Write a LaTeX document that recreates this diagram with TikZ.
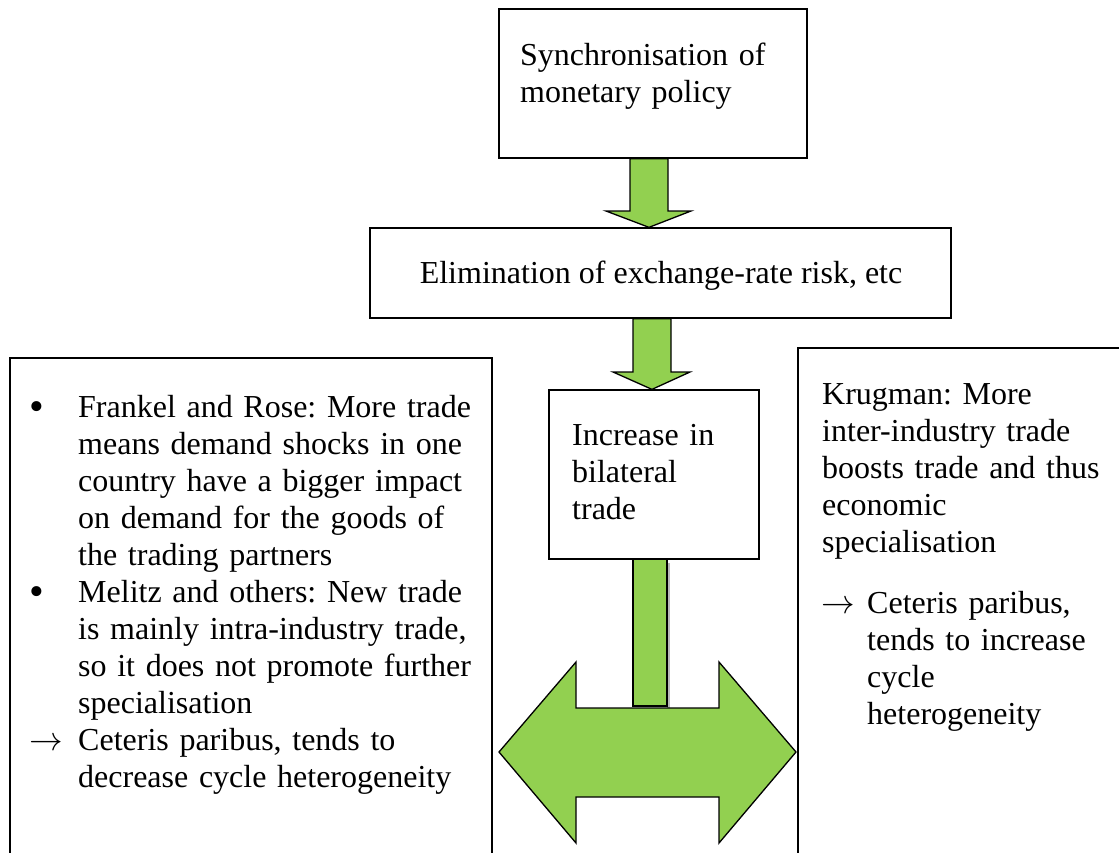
\documentclass[tikz,border=0pt]{standalone}
\usepackage{fontspec}
\setmainfont{Liberation Serif}
\usetikzlibrary{fit}
\definecolor{agreen}{HTML}{92D050}
\frenchspacing
\newcommand{\myarrow}{\scalebox{1.35}{$\rightarrow$}}
\begin{document}
\begin{tikzpicture}[x=1pt,y=-1pt,
  box/.style={draw=black, line width=1.3pt, inner sep=0pt, fill=white},
  blockarrow/.style={draw=black, line width=1.3pt, fill=agreen, line join=miter},
  txt/.style={anchor=base west, inner sep=0pt, align=left, text width=#1, font=\fontsize{32}{37}\selectfont\frenchspacing},
  txt/.default=460pt,
  bul/.style={anchor=center, inner sep=0pt, font=\fontsize{42}{42}\selectfont}]
\clip (0,0) rectangle (1119,852);
\fill[white] (0,0) rectangle (1119,852);
% boxes
\node[box, fit={(499,9) (807,158)}] (top) {};
\node[box, fit={(370,228) (951,318)}] (mid) {};
\node[box, fit={(549,390) (759,559)}] (inc) {};
\node[box, fit={(10,358) (492,880)}] (left) {};
\node[box, fit={(798,348) (1140,880)}] (right) {};
% block arrows
\draw[blockarrow] (630,0 |- top.south) -- (668,0 |- top.south) -- (668,211) -- (691,211)
  -- (649,0 |- mid.north) -- (606,211) -- (630,211) -- cycle;
\draw[blockarrow] (633,0 |- mid.south) -- (671,0 |- mid.south) -- (671,372) -- (690,372)
  -- (652,0 |- inc.north) -- (613,372) -- (633,372) -- cycle;
\fill[gray!55] (667,563) rectangle (670,708);
\draw[blockarrow] (633,0 |- inc.south) rectangle (667,706);
\draw[blockarrow] (499,752) -- (576,662) -- (576,708) -- (719,708) -- (719,662) -- (796,752)
  -- (719,843) -- (719,797) -- (576,797) -- (576,843) -- cycle;
% texts
\node[txt=300pt] (ttop) at (520,65) {Synchronisation of\\monetary policy};
\node[anchor=base, inner sep=0pt, font=\fontsize{32}{37}\selectfont] (tmid) at (661,283) {Elimination of exchange-rate risk, etc};
\node[txt=200pt] (tinc) at (572,445) {Increase in\\bilateral\\trade};
\node[bul] (b1) at (37,411) {•};
\node[txt=420pt] (tl1) at (78,417) {Frankel and Rose: More trade\\means demand shocks in one\\country have a bigger impact\\on demand for the goods of\\the trading partners};
\node[bul] (b2) at (37,596) {•};
\node[txt=420pt] (tl2) at (78,602) {Melitz and others: New trade\\is mainly intra-industry trade,\\so it does not promote further\\specialisation};
\node[txt=40pt] (a1) at (29,750) {\myarrow};
\node[txt=420pt] (tl3) at (78,750) {Ceteris paribus, tends to\\decrease cycle heterogeneity};
\node[txt=300pt] (tr1) at (822,404) {Krugman: More\\inter-industry trade\\boosts trade and thus\\economic\\specialisation};
\node[txt=40pt] (a2) at (821,613) {\myarrow};
\node[txt=250pt] (tr2) at (867,613) {Ceteris paribus,\\tends to increase\\cycle\\heterogeneity};
\end{tikzpicture}
\end{document}
